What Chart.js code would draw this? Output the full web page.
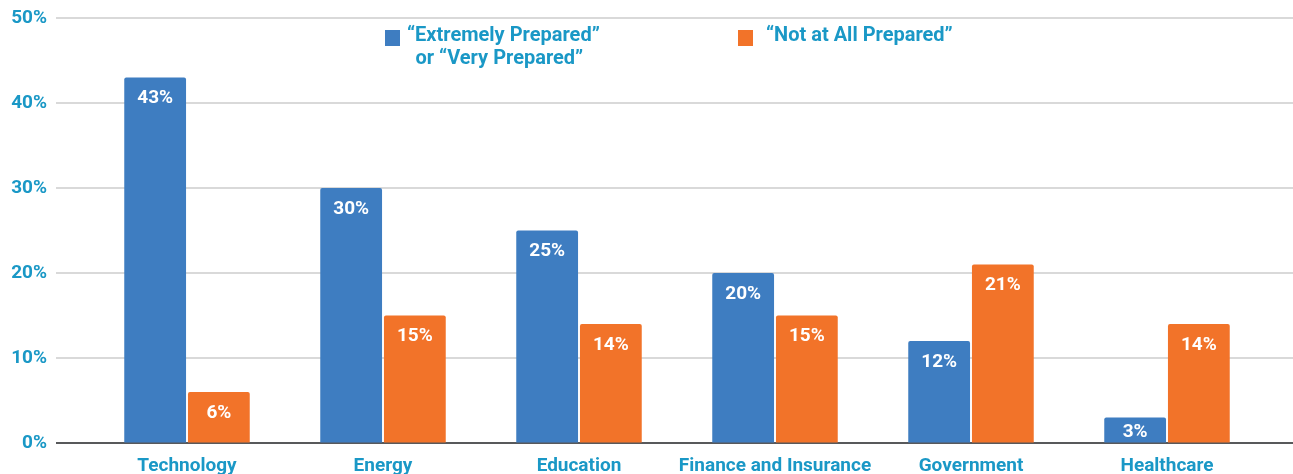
<!DOCTYPE html>
<html>
<head>
<meta charset="utf-8">
<script src="https://cdn.jsdelivr.net/npm/chart.js@4.4.0/dist/chart.umd.min.js"></script>
<style>
  html, body { margin: 0; padding: 0; background: #fff; overflow: hidden; }
  #wrap { width: 1293px; height: 474px; position: relative; }
</style>
</head>
<body>
<div id="wrap"><canvas id="myChart"></canvas></div>
<script>
// data
const categories = ['Technology', 'Energy', 'Education', 'Finance and Insurance', 'Government', 'Healthcare'];
const preparedValues = [43, 30, 25, 20, 12, 3];
const notPreparedValues = [6, 15, 14, 15, 21, 14];
const yTicks = [0, 10, 20, 30, 40, 50];
const seriesNames = [['\u201CExtremely Prepared\u201D', 'or \u201CVery Prepared\u201D'], ['\u201CNot at All Prepared\u201D']];

const BLUE = '#3e7dc1';
const ORANGE = '#f27329';
const TEAL = '#1a98c6';
const FONT = 'Roboto';

// full-width gridlines (they run past the plot area on both sides)
const gridPlugin = {
  id: 'fullGrid',
  beforeDatasetsDraw(chart) {
    const ctx = chart.ctx;
    const y = chart.scales.y;
    ctx.save();
    yTicks.forEach(v => {
      const py = Math.round(y.getPixelForValue(v));
      ctx.beginPath();
      ctx.lineWidth = 2;
      ctx.strokeStyle = v === 0 ? '#58595b' : '#d9d9d9';
      ctx.moveTo(56, py);
      ctx.lineTo(chart.width, py);
      ctx.stroke();
    });
    ctx.restore();
  }
};

// white value labels at the top of each bar
const valuePlugin = {
  id: 'values',
  afterDatasetsDraw(chart) {
    const ctx = chart.ctx;
    ctx.save();
    ctx.fillStyle = '#ffffff';
    ctx.font = 'bold 19px ' + FONT;
    ctx.textAlign = 'center';
    ctx.textBaseline = 'middle';
    chart.data.datasets.forEach((ds, di) => {
      chart.getDatasetMeta(di).data.forEach((bar, i) => {
        const mid = (bar.y + bar.base) / 2 + 2;
        const ty = Math.min(bar.y + 21, mid);
        ctx.fillText(ds.data[i] + '%', bar.x, ty);
      });
    });
    ctx.restore();
  }
};

// legend drawn by hand so the first label can wrap onto two lines
const legendPlugin = {
  id: 'customLegend',
  afterDraw(chart) {
    const ctx = chart.ctx;
    const items = [
      { color: BLUE, box: 385, text: 407, lines: seriesNames[0] },
      { color: ORANGE, box: 738, text: 766, lines: seriesNames[1] }
    ];
    ctx.save();
    ctx.font = 'bold 20px ' + FONT;
    ctx.textBaseline = 'middle';
    items.forEach(it => {
      ctx.fillStyle = it.color;
      ctx.fillRect(it.box, 30, 15, 16);
      ctx.fillStyle = TEAL;
      ctx.textAlign = 'left';
      ctx.fillText(it.lines[0], it.text, 36);
      if (it.lines[1]) {
        const w = ctx.measureText(it.lines[0]).width;
        ctx.textAlign = 'center';
        ctx.fillText(it.lines[1], it.text + w / 2 - 4, 59);
      }
    });
    ctx.restore();
  }
};

const ctx = document.getElementById('myChart');
new Chart(ctx, {
  type: 'bar',
  data: {
    labels: categories,
    datasets: [
      { label: seriesNames[0].join(' '), data: preparedValues, backgroundColor: BLUE, borderRadius: { topLeft: 2, topRight: 2 }, borderSkipped: 'bottom' },
      { label: seriesNames[1].join(' '), data: notPreparedValues, backgroundColor: ORANGE, borderRadius: { topLeft: 2, topRight: 2 }, borderSkipped: 'bottom' }
    ]
  },
  options: {
    responsive: true,
    maintainAspectRatio: false,
    animation: false,
    categoryPercentage: 0.65,
    barPercentage: 0.97,
    layout: { padding: { top: 18, right: 28, left: 0, bottom: 0 } },
    plugins: {
      legend: { display: false },
      tooltip: { enabled: false }
    },
    scales: {
      x: {
        grid: { display: false, drawTicks: false },
        border: { display: false },
        ticks: { color: TEAL, font: { family: FONT, size: 19, weight: 'bold' }, padding: 12, maxRotation: 0, autoSkip: false },
        afterFit: s => { s.height = 31; }
      },
      y: {
        min: 0,
        max: 50,
        // tick marks are invisible; their length pushes the labels left
        grid: { display: true, drawOnChartArea: false, drawTicks: true, tickLength: 42, color: 'rgba(0,0,0,0)' },
        border: { display: false },
        afterBuildTicks: s => { s.ticks = yTicks.map(v => ({ value: v })); },
        afterFit: s => { s.width = 89; },
        ticks: {
          color: TEAL,
          font: { family: FONT, size: 19, weight: 'bold' },
          padding: 0,
          callback: v => v + '%'
        }
      }
    }
  },
  plugins: [gridPlugin, valuePlugin, legendPlugin]
});
</script>
</body>
</html>
